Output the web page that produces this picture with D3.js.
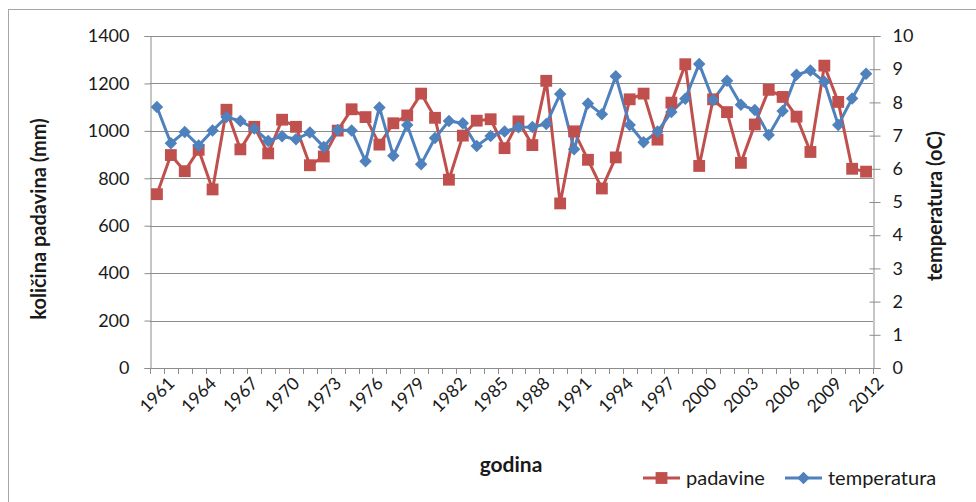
<!DOCTYPE html>
<html>
<head>
<meta charset="utf-8">
<script src="https://cdn.jsdelivr.net/npm/d3@7"></script>
<style>
  body { margin: 0; background: #fff; }
  svg { font-family: Lato, "Liberation Sans", sans-serif; }
</style>
</head>
<body>
<svg width="976" height="502"></svg>
<script>
// podaci
const years = d3.range(1961, 2013);
const padavine = [
  733, 898, 830, 920, 753, 1089, 922, 1017, 905, 1047,
  1017, 855, 892, 1001, 1091, 1058, 942, 1032, 1065, 1157,
  1055, 794, 980, 1043, 1049, 927, 1040, 940, 1211, 694,
  998, 878, 757, 888, 1133, 1157, 963, 1119, 1281, 852,
  1133, 1079, 865, 1027, 1173, 1143, 1060, 911, 1275, 1122,
  840, 828
];
const temperatura = [
  7.86, 6.77, 7.11, 6.70, 7.15, 7.56, 7.44, 7.21, 6.84, 6.98,
  6.89, 7.09, 6.66, 7.17, 7.15, 6.23, 7.85, 6.39, 7.32, 6.14,
  6.93, 7.44, 7.37, 6.69, 6.99, 7.12, 7.25, 7.26, 7.35, 8.25,
  6.59, 7.97, 7.64, 8.79, 7.32, 6.80, 7.12, 7.71, 8.11, 9.16,
  8.07, 8.65, 7.93, 7.77, 7.02, 7.74, 8.83, 8.96, 8.62, 7.32,
  8.12, 8.86
];
const leftTicks = d3.range(0, 1401, 200);
const rightTicks = d3.range(0, 11, 1);
const labelYears = years.filter((d, i) => i % 3 === 0);

const pLeft = 150, pRight = 873, pTop = 36, pBottom = 368;
const red = "#C0504D", blue = "#4F81BD", grid = "#8c8c8c", ink = "#1a1a1a";

const svg = d3.select("svg");

// okvir
svg.append("rect")
  .attr("x", 8.5).attr("y", 9.5)
  .attr("width", 1000).attr("height", 600)
  .attr("fill", "none").attr("stroke", "#a6a6a6");

const x = d3.scaleBand().domain(years).range([pLeft, pRight]);
const yL = d3.scaleLinear().domain([0, 1400]).range([pBottom, pTop]);
const yR = d3.scaleLinear().domain([0, 10]).range([pBottom, pTop]);
const cx = d => x(d) + x.bandwidth() / 2;

// mreža
svg.append("g").selectAll("line")
  .data(leftTicks.filter(d => d > 0))
  .enter().append("line")
  .attr("x1", pLeft).attr("x2", pRight)
  .attr("y1", d => Math.round(yL(d)) + 0.5).attr("y2", d => Math.round(yL(d)) + 0.5)
  .attr("stroke", grid);

// lijeva os
const gL = svg.append("g").attr("transform", `translate(${pLeft + 0.5},0)`)
  .call(d3.axisLeft(yL).tickValues(leftTicks).tickFormat(d3.format("d")).tickSize(6).tickPadding(15));
gL.select(".domain").attr("stroke", grid);
gL.selectAll(".tick line").attr("stroke", grid);
gL.selectAll("text").attr("font-size", 18).attr("fill", ink).attr("font-family", "Lato");

// desna os
const gR = svg.append("g").attr("transform", `translate(${pRight + 0.5},0)`)
  .call(d3.axisRight(yR).tickValues(rightTicks).tickSize(7).tickPadding(12));
gR.select(".domain").attr("stroke", grid);
gR.selectAll(".tick line").attr("stroke", grid).attr("x1", -4);
gR.selectAll("text").attr("font-size", 18).attr("fill", ink).attr("font-family", "Lato");

// x os
const gX = svg.append("g");
gX.append("line")
  .attr("x1", pLeft).attr("x2", pRight)
  .attr("y1", pBottom + 0.5).attr("y2", pBottom + 0.5)
  .attr("stroke", grid);
gX.selectAll("line.tk")
  .data(years.concat([null]))
  .enter().append("line").attr("class", "tk")
  .attr("x1", (d, i) => Math.round(pLeft + i * x.step()) + 0.5)
  .attr("x2", (d, i) => Math.round(pLeft + i * x.step()) + 0.5)
  .attr("y1", pBottom).attr("y2", pBottom + 6)
  .attr("stroke", grid);
gX.selectAll("text")
  .data(labelYears)
  .enter().append("text")
  .attr("transform", d => `translate(${cx(d) + 10},${pBottom + 8}) rotate(-45)`)
  .attr("text-anchor", "end")
  .attr("dy", "0.7em")
  .attr("font-size", 17.5).attr("fill", ink)
  .text(d => d);

// naslovi osi
svg.append("text")
  .attr("transform", `translate(46,219) rotate(-90)`)
  .attr("text-anchor", "middle")
  .attr("font-size", 20).attr("font-weight", "bold").attr("fill", ink)
  .text("količina padavina (mm)");
svg.append("text")
  .attr("transform", `translate(942,206) rotate(-90)`)
  .attr("text-anchor", "middle")
  .attr("font-size", 20).attr("font-weight", "bold").attr("fill", ink)
  .text("temperatura (oC)");
svg.append("text")
  .attr("x", 511).attr("y", 472)
  .attr("text-anchor", "middle")
  .attr("font-size", 21).attr("font-weight", "bold").attr("fill", ink)
  .text("godina");

// linije
const lineP = d3.line().x((d, i) => cx(years[i])).y(d => yL(d));
const lineT = d3.line().x((d, i) => cx(years[i])).y(d => yR(d));

svg.append("path").datum(padavine)
  .attr("d", lineP).attr("fill", "none")
  .attr("stroke", red).attr("stroke-width", 3).attr("stroke-linejoin", "round");
svg.append("path").datum(temperatura)
  .attr("d", lineT).attr("fill", "none")
  .attr("stroke", blue).attr("stroke-width", 3).attr("stroke-linejoin", "round");

const sq = d3.symbol().type(d3.symbolSquare).size(140);
const dm = d3.symbol().type(d3.symbolSquare).size(78);

svg.append("g").selectAll("path")
  .data(padavine).enter().append("path")
  .attr("d", sq)
  .attr("transform", (d, i) => `translate(${cx(years[i])},${yL(d)})`)
  .attr("fill", red);
svg.append("g").selectAll("path")
  .data(temperatura).enter().append("path")
  .attr("d", dm)
  .attr("transform", (d, i) => `translate(${cx(years[i])},${yR(d)}) rotate(45)`)
  .attr("fill", blue);

// legenda
const legend = [
  { name: "padavine", color: red, sym: sq, rot: 0, x: 643 },
  { name: "temperatura", color: blue, sym: dm, rot: 45, x: 785 }
];
const lg = svg.append("g").selectAll("g")
  .data(legend).enter().append("g")
  .attr("transform", d => `translate(${d.x},478)`);
lg.append("line").attr("x1", 0).attr("x2", 37)
  .attr("stroke", d => d.color).attr("stroke-width", 3);
lg.append("path").attr("d", d => d.sym()).attr("transform", d => `translate(18.5,0) rotate(${d.rot})`)
  .attr("fill", d => d.color);
lg.append("text").attr("x", 43).attr("dy", "0.35em")
  .attr("font-size", 20).attr("fill", ink)
  .text(d => d.name);
</script>
</body>
</html>
